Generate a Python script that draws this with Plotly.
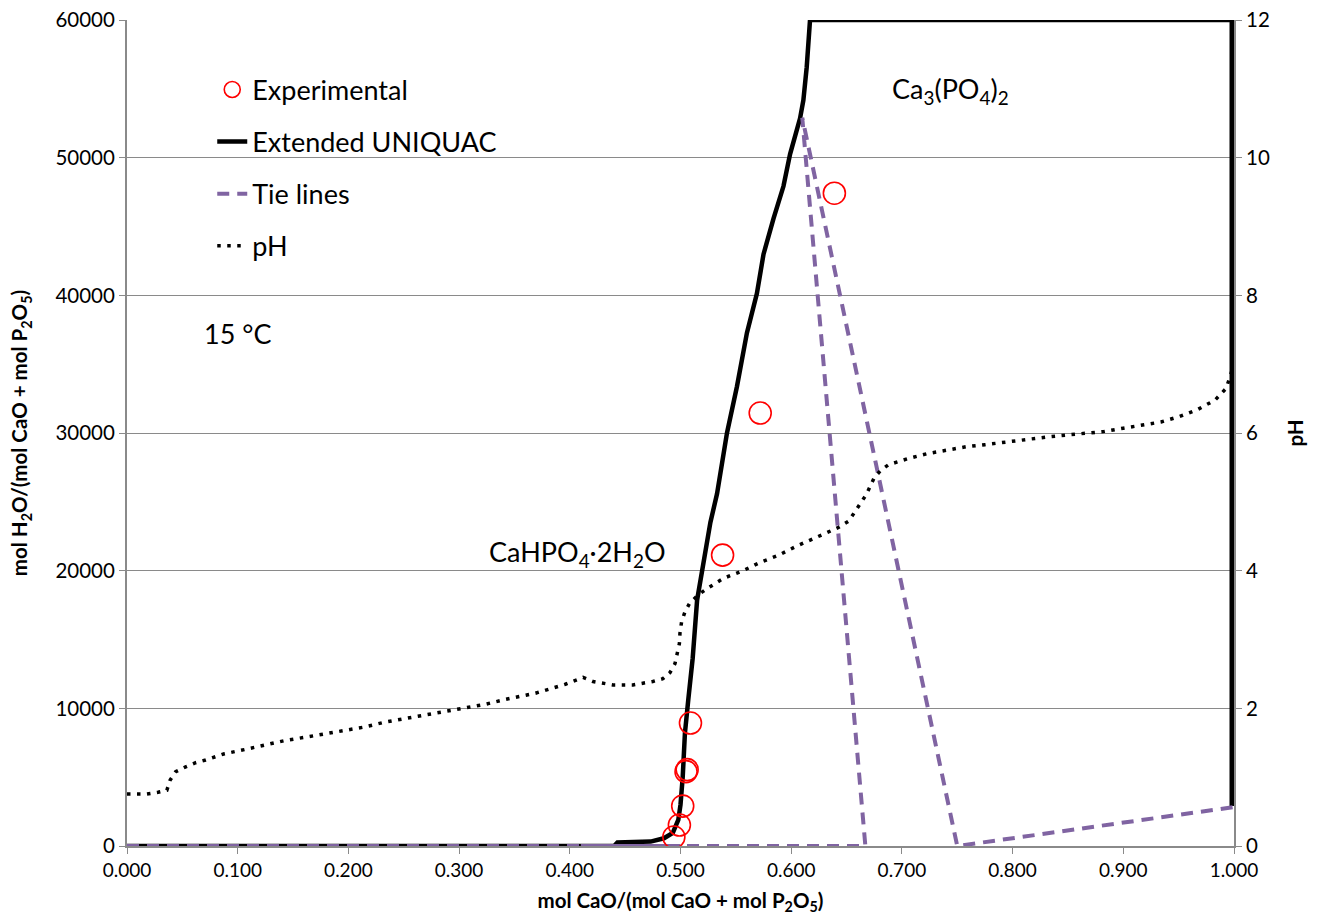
import plotly.graph_objects as go

# ---- data ----
# Extended UNIQUAC solubility curve (x = mol CaO/(mol CaO + mol P2O5), y = mol H2O/(...))
uniquac_x = [0.000, 0.440, 0.443, 0.473, 0.485, 0.493, 0.498, 0.500, 0.502, 0.504, 0.507,
             0.511, 0.515, 0.520, 0.527, 0.533, 0.542, 0.551, 0.560, 0.569, 0.575, 0.584,
             0.593, 0.599, 0.608, 0.611, 0.614, 0.617, 1.000]
uniquac_y = [0, 0, 250, 320, 560, 944, 1890, 3000, 5000, 8200, 10600,
             13640, 17860, 20390, 23500, 25580, 30000, 33380, 37270, 40130, 42990, 45580,
             47920, 50260, 52860, 54180, 56570, 60000, 60000]
# vertical branch at pure CaO side
uniquac_end_x = [1.000, 1.000]
uniquac_end_y = [60000, 2900]

# Experimental points
exp_x = [0.494, 0.499, 0.502, 0.505, 0.506, 0.509, 0.538, 0.572, 0.639]
exp_y = [650, 1520, 2900, 5400, 5550, 8930, 21130, 31450, 47420]

# Tie lines
tie_x = [0.000, 0.667, 0.610, 0.750, 1.000]
tie_y = [0, 0, 52900, 0, 2830]
tie2_x = [0.410, 0.500]
tie2_y = [0, 0]

# pH (right axis)
ph_x = [0.000, 0.018, 0.028, 0.036, 0.039, 0.044, 0.053, 0.062, 0.071, 0.088, 0.106,
        0.124, 0.142, 0.161, 0.179, 0.197, 0.215, 0.233, 0.251, 0.269, 0.287, 0.306,
        0.324, 0.342, 0.369, 0.396, 0.412, 0.421, 0.439, 0.457, 0.475, 0.484, 0.4905,
        0.495, 0.497, 0.499, 0.4995, 0.501, 0.504, 0.508, 0.516, 0.524, 0.539, 0.555,
        0.572, 0.588, 0.604, 0.621, 0.636, 0.643, 0.652, 0.657, 0.662, 0.668, 0.675,
        0.681, 0.688, 0.706, 0.723, 0.740, 0.758, 0.775, 0.794, 0.813, 0.830, 0.848,
        0.865, 0.882, 0.900, 0.917, 0.934, 0.951, 0.967, 0.983, 0.993, 0.998, 0.9995, 1.000]
ph_y = [0.755, 0.755, 0.78, 0.81, 0.96, 1.08, 1.15, 1.21, 1.25, 1.34, 1.40,
        1.46, 1.53, 1.58, 1.63, 1.68, 1.73, 1.80, 1.85, 1.90, 1.95, 2.00,
        2.06, 2.13, 2.22, 2.35, 2.45, 2.39, 2.34, 2.34, 2.39, 2.43, 2.52,
        2.65, 2.80, 2.94, 3.09, 3.26, 3.40, 3.52, 3.65, 3.74, 3.89, 3.99,
        4.12, 4.22, 4.35, 4.47, 4.57, 4.63, 4.72, 4.84, 4.96, 5.11, 5.35,
        5.46, 5.54, 5.63, 5.70, 5.75, 5.80, 5.83, 5.87, 5.91, 5.94, 5.97,
        5.99, 6.02, 6.07, 6.12, 6.16, 6.24, 6.34, 6.48, 6.65, 6.90, 8.0, 11.0]

x_ticks = [0.0, 0.1, 0.2, 0.3, 0.4, 0.5, 0.6, 0.7, 0.8, 0.9, 1.0]
y_ticks = [0, 10000, 20000, 30000, 40000, 50000, 60000]
ph_ticks = [0, 2, 4, 6, 8, 10, 12]

FONT = "Lato"
PURPLE = "#8064A2"
GRID = "#8a8a8a"

fig = go.Figure()

fig.add_trace(go.Scatter(x=uniquac_x, y=uniquac_y, mode="lines", name="Extended UNIQUAC",
                         legendrank=2, legendgroup="b",
                         line=dict(color="black", width=4.5)))
fig.add_trace(go.Scatter(x=uniquac_end_x, y=uniquac_end_y, mode="lines", showlegend=False,
                         legendgroup="b", hoverinfo="skip",
                         line=dict(color="black", width=9)))
fig.add_trace(go.Scatter(x=tie2_x, y=tie2_y, mode="lines", showlegend=False,
                         line=dict(color=PURPLE, width=4), hoverinfo="skip"))
fig.add_trace(go.Scatter(x=tie_x, y=tie_y, mode="lines", name="Tie lines",
                         legendrank=3, legendgroup="c",
                         line=dict(color=PURPLE, width=4, dash="12px,8px")))
fig.add_trace(go.Scatter(x=exp_x, y=exp_y, mode="markers", name="Experimental",
                         legendrank=1, legendgroup="a",
                         marker=dict(symbol="circle-open", size=22, color="#FF0000",
                                     line=dict(width=1.6, color="#FF0000"))))
fig.add_trace(go.Scatter(x=ph_x, y=ph_y, mode="lines", name="pH", yaxis="y2",
                         legendrank=4, legendgroup="d",
                         line=dict(color="black", width=3.5, dash="3.5px,6.5px")))

ann_font = dict(family=FONT, size=27, color="black")
fig.add_annotation(x=0.744, y=54900, text="Ca<sub>3</sub>(PO<sub>4</sub>)<sub>2</sub>",
                   showarrow=False, font=ann_font)
fig.add_annotation(x=0.4065, y=21280, text="CaHPO<sub>4</sub>·2H<sub>2</sub>O",
                   showarrow=False, font=ann_font)
fig.add_annotation(x=0.100, y=37250, text="15 °C", showarrow=False, font=ann_font)

x_tick_font = dict(family=FONT, size=19, color="black")
y_tick_font = dict(family=FONT, size=20.5, color="black")
title_font = dict(family=FONT, size=20.5, color="black", weight="bold")

fig.update_layout(
    width=1324, height=917,
    margin=dict(l=127, r=90, t=20, b=71),
    paper_bgcolor="white", plot_bgcolor="white",
    font=dict(family=FONT),
    showlegend=True,
    legend=dict(x=0.077, y=0.945, xanchor="left", yanchor="top",
                font=dict(family=FONT, size=27, color="black"),
                bgcolor="rgba(0,0,0,0)", traceorder="grouped",
                tracegroupgap=14, itemwidth=30),
    xaxis=dict(range=[0, 1], tickvals=x_ticks, tickformat=".3f", automargin=False,
               showgrid=False, zeroline=False, showline=True, linecolor=GRID,
               linewidth=2, ticks="outside", ticklen=6, tickcolor=GRID,
               tickfont=x_tick_font,
               title=dict(text="mol CaO/(mol CaO + mol P<sub>2</sub>O<sub>5</sub>)",
                          font=title_font, standoff=14)),
    yaxis=dict(range=[0, 60000], tickvals=y_ticks, tickformat="d", showgrid=True,
               automargin=False,
               gridcolor=GRID, gridwidth=1, zeroline=False, showline=True,
               linecolor=GRID, linewidth=2,
               ticks="outside", ticklen=6, tickcolor=GRID, tickfont=y_tick_font,
               title=dict(text="mol H<sub>2</sub>O/(mol CaO + mol P<sub>2</sub>O<sub>5</sub>)",
                          font=title_font, standoff=22)),
    yaxis2=dict(range=[0, 12], tickvals=ph_ticks, overlaying="y", side="right",
                automargin=False,
                showgrid=False, zeroline=False, showline=True, linecolor=GRID,
                linewidth=2, ticks="outside", ticklen=6, tickcolor=GRID,
                tickfont=y_tick_font,
                title=dict(text="pH", font=title_font, standoff=20)),
)

fig.write_html("out.html")
